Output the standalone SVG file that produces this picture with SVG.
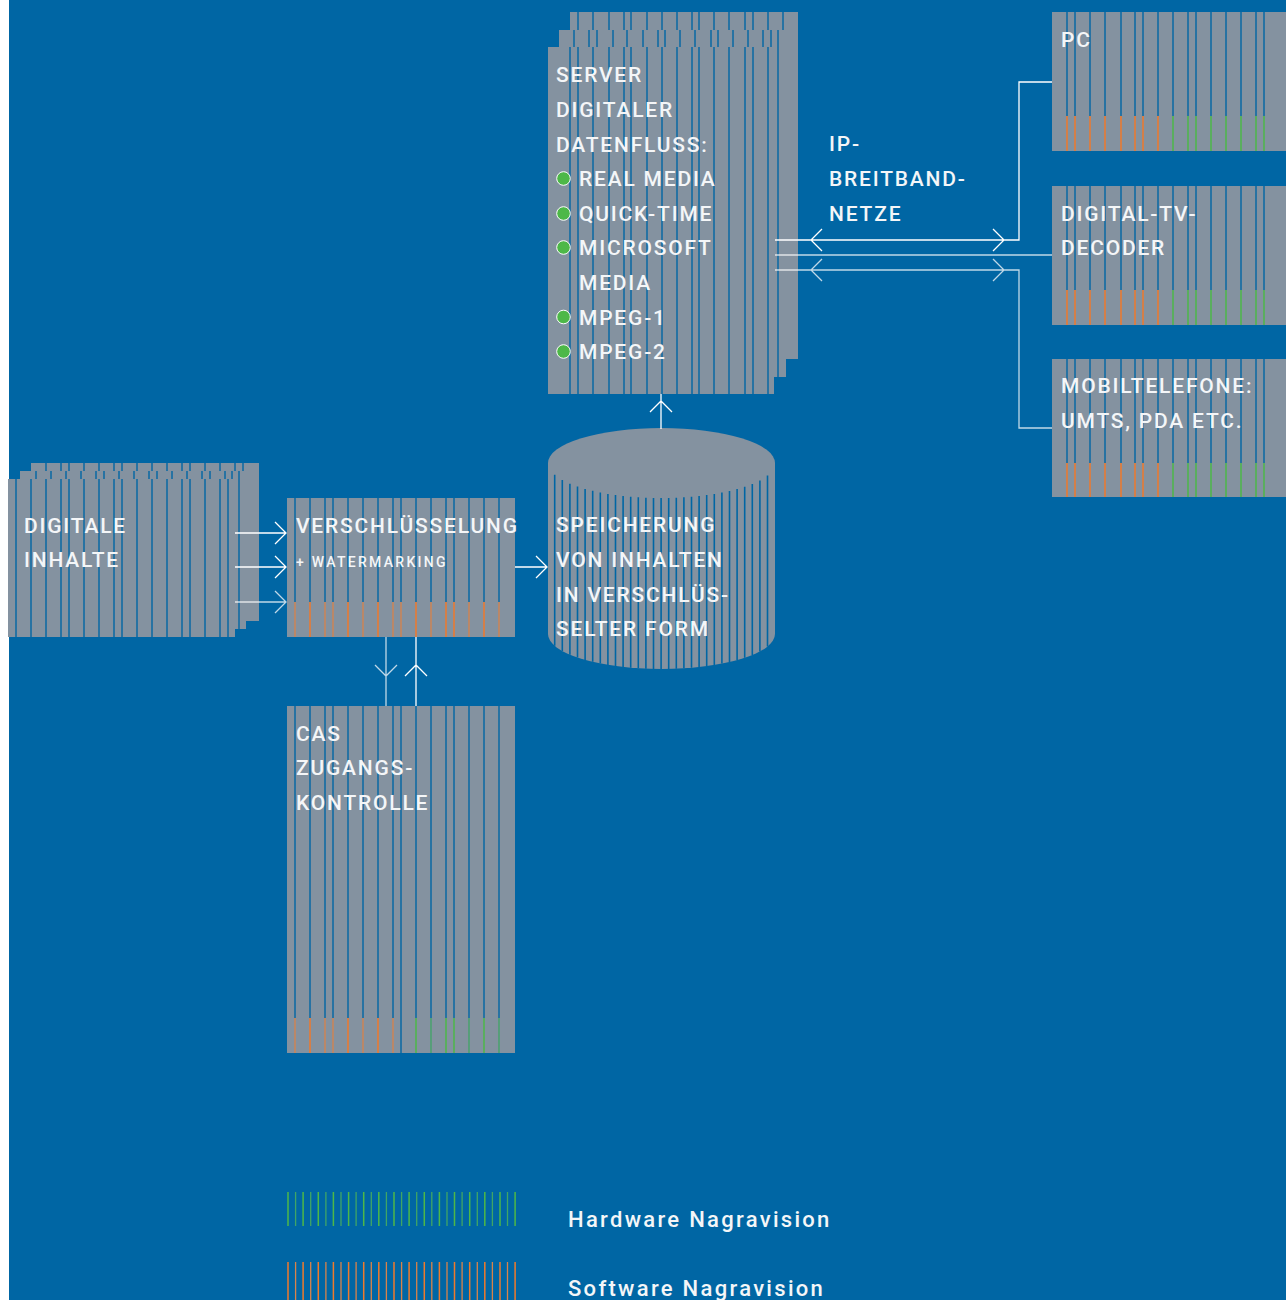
<svg xmlns="http://www.w3.org/2000/svg" width="1286" height="1300" viewBox="0 0 1286 1300">
<style>
.bx{fill:#8492A0}
.ln{stroke:#0066A4;stroke-width:1.4;fill:none}
.or{stroke:#EE7A2C;stroke-width:1.5;fill:none}
.gr{stroke:#4CB848;stroke-width:1.5;fill:none}
.or2{stroke:#D8834A;stroke-width:1.3;fill:none}
.gr2{stroke:#3FA566;stroke-width:1.3;fill:none}
.st{stroke:#0066A4;stroke-width:1.6;fill:none}
.t{font-family:Roboto,"Liberation Sans",sans-serif;font-weight:500;font-size:21px;letter-spacing:1.8px;fill:#F4F6F8}
.ts{font-size:14px;letter-spacing:2.3px}
.lg{font-size:22px;letter-spacing:2.3px}
.c{stroke:#FFFFFF;stroke-width:1.3;fill:none}
.c2{stroke:#FFFFFF;stroke-opacity:0.75;stroke-width:1.3;fill:none}
.dot{fill:#4DB848;stroke:#FFFFFF;stroke-width:1}
</style>
<rect width="1286" height="1300" fill="#FFFFFF"/>
<rect x="9" width="1277" height="1300" fill="#0066A4"/>

<g id="node-server">
<rect class="bx" x="570" y="12" width="228" height="347"/>
<path class="ln" d="M578 12V359M593 12V359M609 12V359M624 12V359M631 12V359M647 12V359M662 12V359M677 12V359M692 12V359M699 12V359M714 12V359M729 12V359M745 12V359M753 12V359M768 12V359M783 12V359"/>
<rect class="bx" x="559" y="30" width="227" height="347"/>
<path class="ln" d="M574 30V377M589 30V377M597 30V377M613 30V377M627 30V377M643 30V377M658 30V377M665 30V377M680 30V377M695 30V377M711 30V377M718 30V377M733 30V377M748 30V377M763 30V377M771 30V377M778 30V377"/>
<rect class="bx" x="548" y="47" width="226" height="347"/>
<path class="ln" d="M570 47V394M578 47V394M593 47V394M609 47V394M624 47V394M631 47V394M647 47V394M662 47V394M677 47V394M692 47V394M699 47V394M714 47V394M729 47V394M745 47V394M753 47V394M768 47V394"/>
<text class="t" x="556" y="82">SERVER</text>
<text class="t" x="556" y="117">DIGITALER</text>
<text class="t" x="556" y="152">DATENFLUSS:</text>
<circle class="dot" cx="563.5" cy="178.5" r="6.8"/>
<text class="t" x="579" y="186">REAL MEDIA</text>
<circle class="dot" cx="563.5" cy="213.5" r="6.8"/>
<text class="t" x="579" y="221">QUICK-TIME</text>
<circle class="dot" cx="563.5" cy="247.5" r="6.8"/>
<text class="t" x="579" y="255">MICROSOFT</text>
<text class="t" x="579" y="290">MEDIA</text>
<circle class="dot" cx="563.5" cy="317" r="6.8"/>
<text class="t" x="579" y="325">MPEG-1</text>
<circle class="dot" cx="563.5" cy="351.5" r="6.8"/>
<text class="t" x="579" y="359">MPEG-2</text>
</g>

<g id="node-digitale-inhalte">
<rect class="bx" x="31" y="463" width="228" height="158"/>
<path class="ln" d="M46 463V621M61 463V621M69 463V621M84 463V621M99 463V621M114 463V621M122 463V621M137 463V621M152 463V621M167 463V621M182 463V621M190 463V621M205 463V621M220 463V621M235 463V621M243 463V621"/>
<rect class="bx" x="20" y="471" width="226" height="158"/>
<path class="ln" d="M36 471V629M51 471V629M66 471V629M81 471V629M96 471V629M104 471V629M119 471V629M134 471V629M149 471V629M157 471V629M172 471V629M187 471V629M202 471V629M210 471V629M225 471V629M232 471V629M239 471V629"/>
<rect class="bx" x="8" y="479" width="227" height="158"/>
<path class="ln" d="M16 479V637M31 479V637M46 479V637M61 479V637M69 479V637M84 479V637M99 479V637M114 479V637M122 479V637M137 479V637M152 479V637M167 479V637M182 479V637M190 479V637M205 479V637M220 479V637M228 479V637"/>
<text class="t" x="24" y="533">DIGITALE</text>
<text class="t" x="24" y="567">INHALTE</text>
</g>

<g id="node-verschluesselung">
<rect class="bx" x="287" y="498" width="228" height="139"/>
<path class="ln" d="M295 498V602M310 498V602M325 498V602M333 498V602M348 498V602M363 498V602M378 498V602M393 498V602M401 498V602M416 498V602M431 498V602M446 498V602M454 498V602M469 498V602M484 498V602M499 498V602"/>
<path class="or2" d="M295 602V637M325 602V637M333 602V637M363 602V637M393 602V637M401 602V637M431 602V637M469 602V637M499 602V637"/>
<path class="or" d="M310 602V637M348 602V637M378 602V637M416 602V637M446 602V637M454 602V637M484 602V637"/>
<text class="t" x="296" y="533">VERSCHLÜSSELUNG</text>
<text class="t ts" x="296" y="567">+ WATERMARKING</text>
</g>

<g id="node-speicherung">
<path class="bx" d="M548 463A113.5 35 0 0 1 775 463V634A113.5 35 0 0 1 548 634Z"/>
<path class="st" d="M554.7 474.8V645.8M562.3 480V651M569.9 483.7V654.7M577.5 486.5V657.5M585.1 488.9V659.9M592.7 490.8V661.8M600.3 492.5V663.5M607.9 493.9V664.9M615.5 495V666M623.1 495.9V666.9M630.7 496.7V667.7M638.3 497.3V668.3M645.9 497.7V668.7M653.5 497.9V668.9M661.1 498V669M668.7 497.9V668.9M676.3 497.7V668.7M683.9 497.3V668.3M691.5 496.8V667.8M699.1 496V667M706.7 495.1V666.1M714.3 494V665M721.9 492.6V663.6M729.5 491V662M737.1 489.1V660.1M744.7 486.8V657.8M752.3 484V655M759.9 480.4V651.4M767.5 475.5V646.5"/>
<text class="t" x="556" y="532">SPEICHERUNG</text>
<text class="t" x="556" y="567">VON INHALTEN</text>
<text class="t" x="556" y="602">IN VERSCHLÜS-</text>
<text class="t" x="556" y="636">SELTER FORM</text>
</g>

<g id="node-cas">
<rect class="bx" x="287" y="706" width="228" height="347"/>
<path class="ln" d="M295 706V1018M310 706V1018M325 706V1018M333 706V1018M348 706V1018M363 706V1018M378 706V1018M393 706V1018M401 706V1053M416 706V1018M431 706V1018M446 706V1018M454 706V1018M469 706V1018M484 706V1018M499 706V1018"/>
<path class="or2" d="M295 1018V1053M325 1018V1053M333 1018V1053M363 1018V1053M393 1018V1053"/>
<path class="or" d="M310 1018V1053M348 1018V1053M378 1018V1053"/>
<path class="gr2" d="M431 1018V1053M469 1018V1053M499 1018V1053"/>
<path class="gr" d="M416 1018V1053M446 1018V1053M454 1018V1053M484 1018V1053"/>
<text class="t" x="296" y="741">CAS</text>
<text class="t" x="296" y="775">ZUGANGS-</text>
<text class="t" x="296" y="810">KONTROLLE</text>
</g>

<g id="node-pc">
<rect class="bx" x="1052" y="12" width="234" height="139"/>
<path class="ln" d="M1067 12V116M1075 12V116M1090 12V116M1105 12V116M1121 12V116M1135 12V116M1143 12V116M1158 12V116M1173 12V116M1188 12V116M1196 12V116M1211 12V116M1226 12V116M1241 12V116M1256 12V116M1264 12V116"/>
<path class="or" d="M1067 116V151M1075 116V151M1090 116V151M1105 116V151M1121 116V151M1135 116V151M1143 116V151M1158 116V151"/>
<path class="gr" d="M1173 116V151M1188 116V151M1196 116V151M1211 116V151M1226 116V151M1241 116V151M1256 116V151M1264 116V151"/>
<text class="t" x="1061" y="47">PC</text>
</g>

<g id="node-decoder">
<rect class="bx" x="1052" y="186" width="234" height="139"/>
<path class="ln" d="M1067 186V290M1075 186V290M1090 186V290M1105 186V290M1121 186V290M1135 186V290M1143 186V290M1158 186V290M1173 186V290M1188 186V290M1196 186V290M1211 186V290M1226 186V290M1241 186V290M1256 186V290M1264 186V290"/>
<path class="or" d="M1067 290V325M1075 290V325M1090 290V325M1105 290V325M1121 290V325M1135 290V325M1143 290V325M1158 290V325"/>
<path class="gr" d="M1173 290V325M1188 290V325M1196 290V325M1211 290V325M1226 290V325M1241 290V325M1256 290V325M1264 290V325"/>
<text class="t" x="1061" y="221">DIGITAL-TV-</text>
<text class="t" x="1061" y="255">DECODER</text>
</g>

<g id="node-mobil">
<rect class="bx" x="1052" y="359" width="234" height="138"/>
<path class="ln" d="M1067 359V463M1075 359V463M1090 359V463M1105 359V463M1121 359V463M1135 359V463M1143 359V463M1158 359V463M1173 359V463M1188 359V463M1196 359V463M1211 359V463M1226 359V463M1241 359V463M1256 359V463M1264 359V463"/>
<path class="or" d="M1067 463V497M1075 463V497M1090 463V497M1105 463V497M1121 463V497M1135 463V497M1143 463V497M1158 463V497"/>
<path class="gr" d="M1173 463V497M1188 463V497M1196 463V497M1211 463V497M1226 463V497M1241 463V497M1256 463V497M1264 463V497"/>
<text class="t" x="1061" y="393">MOBILTELEFONE:</text>
<text class="t" x="1061" y="428">UMTS, PDA ETC.</text>
</g>

<g id="connectors">
<path class="c" d="M235 533H286M275 522L286 533L275 544"/>
<path class="c" d="M235 567H286M275 556L286 567L275 578"/>
<path class="c2" d="M235 602H286M275 591L286 602L275 613"/>
<path class="c" d="M515 567H547M536 556L547 567L536 578"/>
<path class="c2" d="M386 637V706M375 665L386 676L397 665"/>
<path class="c" d="M416 637V706M405 676L416 665L427 676"/>
<path class="c" d="M661 394V429M650 412L661 401L672 412"/>
<path class="c" d="M775 240H1019V82H1052M822 229L811 240L822 251M993 229L1004 240L993 251"/>
<path class="c2" d="M775 255H1052"/>
<path class="c2" d="M775 270H1019V428H1052M822 259L811 270L822 281M993 259L1004 270L993 281"/>
</g>

<g id="text-ip">
<text class="t" x="829" y="151">IP-</text>
<text class="t" x="829" y="186">BREITBAND-</text>
<text class="t" x="829" y="221">NETZE</text>
</g>

<g id="legend">
<path class="gr" d="M288 1192V1226M303.1 1192V1226M318.3 1192V1226M333.4 1192V1226M348.6 1192V1226M363.7 1192V1226M378.8 1192V1226M394 1192V1226M409.1 1192V1226M424.3 1192V1226M439.4 1192V1226M454.5 1192V1226M469.7 1192V1226M484.8 1192V1226M500 1192V1226M515.1 1192V1226"/>
<path class="gr2" d="M295.6 1192V1226M310.7 1192V1226M325.9 1192V1226M341 1192V1226M356.1 1192V1226M371.3 1192V1226M386.4 1192V1226M401.6 1192V1226M416.7 1192V1226M431.8 1192V1226M447 1192V1226M462.1 1192V1226M477.3 1192V1226M492.4 1192V1226M507.5 1192V1226"/>
<path class="or" d="M288 1262V1300M303.1 1262V1300M318.3 1262V1300M333.4 1262V1300M348.6 1262V1300M363.7 1262V1300M378.8 1262V1300M394 1262V1300M409.1 1262V1300M424.3 1262V1300M439.4 1262V1300M454.5 1262V1300M469.7 1262V1300M484.8 1262V1300M500 1262V1300M515.1 1262V1300"/>
<path class="or2" d="M295.6 1262V1300M310.7 1262V1300M325.9 1262V1300M341 1262V1300M356.1 1262V1300M371.3 1262V1300M386.4 1262V1300M401.6 1262V1300M416.7 1262V1300M431.8 1262V1300M447 1262V1300M462.1 1262V1300M477.3 1262V1300M492.4 1262V1300M507.5 1262V1300"/>
<text class="t lg" x="568" y="1227">Hardware Nagravision</text>
<text class="t lg" x="568" y="1296">Software Nagravision</text>
</g>
</svg>
